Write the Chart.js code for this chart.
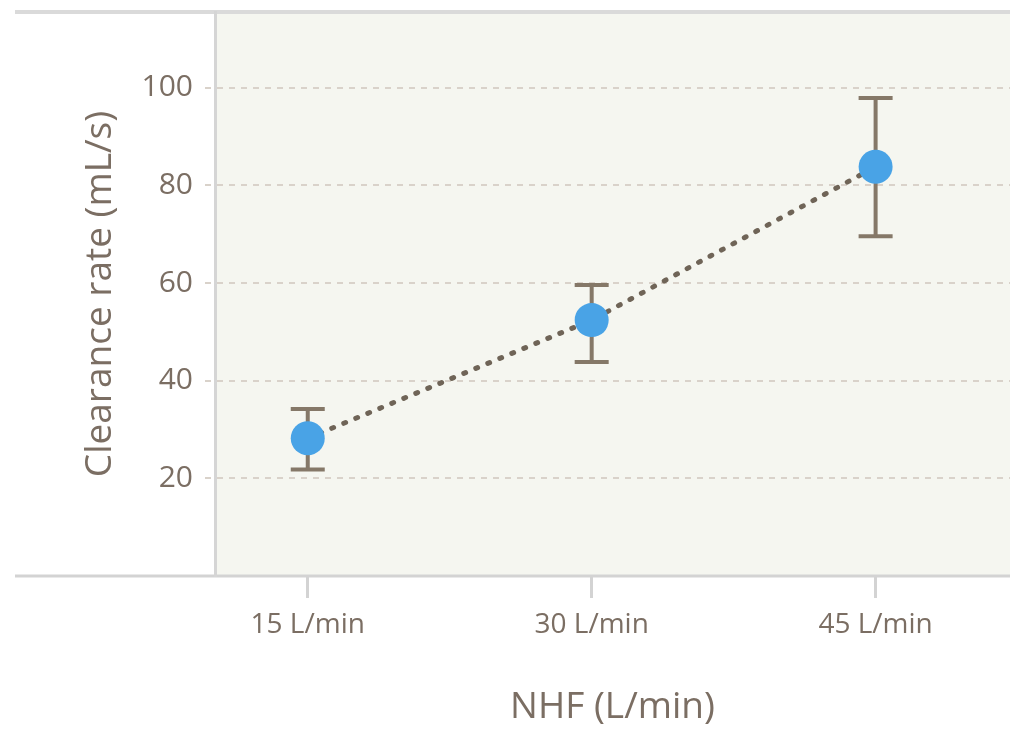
<!DOCTYPE html>
<html>
<head>
<meta charset="utf-8">
<script src="https://cdn.jsdelivr.net/npm/chart.js"></script>
<style>
    html, body { margin: 0; padding: 0; background: #ffffff; }
    #wrap { width: 1010px; height: 732px; }
</style>
</head>
<body>
<div id="wrap">
    <canvas id="lineChart" width="1010" height="732" style="width:1010px;height:732px"></canvas>
</div>

<script>
    // values
    const categories = ['15 L/min', '30 L/min', '45 L/min'];
    const flowRates = [15, 30, 45];
    const clearanceMean = [28.2, 52.4, 83.8];
    const errorHigh = [34.2, 59.6, 97.9];
    const errorLow = [21.8, 43.8, 69.6];
    const yTicks = [0, 20, 40, 60, 80, 100];

    const textColor = '#7b6e63';
    const barColor = '#857868';

    Chart.defaults.font.family = '"Open Sans", "Noto Sans", sans-serif';
    Chart.defaults.color = textColor;

    const points = flowRates.map((x, i) => ({ x: x, y: clearanceMean[i] }));

    // plot background and the long grey frame lines
    const backdrop = {
        id: 'backdrop',
        beforeDraw(chart) {
            const { ctx, chartArea: a } = chart;
            ctx.save();
            ctx.fillStyle = '#f5f6f0';
            ctx.fillRect(a.left, a.top, a.right - a.left, a.bottom - a.top);
            ctx.strokeStyle = '#dadada';
            ctx.lineWidth = 4;
            ctx.beginPath();
            ctx.moveTo(15, a.top);
            ctx.lineTo(a.right, a.top);
            ctx.stroke();
            ctx.lineWidth = 3;
            ctx.strokeStyle = '#d3d3d3';
            ctx.beginPath();
            ctx.moveTo(15, a.bottom);
            ctx.lineTo(a.right, a.bottom);
            ctx.stroke();
            ctx.restore();
        }
    };

    // error bars, drawn from the arrays through the chart scales
    const errorBars = {
        id: 'errorBars',
        beforeDatasetsDraw(chart) {
            const { ctx, scales: { x, y } } = chart;
            ctx.save();
            ctx.strokeStyle = barColor;
            ctx.lineWidth = 4;
            flowRates.forEach((v, i) => {
                const px = x.getPixelForValue(v);
                const hi = y.getPixelForValue(errorHigh[i]);
                const lo = y.getPixelForValue(errorLow[i]);
                ctx.beginPath();
                ctx.moveTo(px, hi);
                ctx.lineTo(px, lo);
                ctx.moveTo(px - 17, hi);
                ctx.lineTo(px + 17, hi);
                ctx.moveTo(px - 17, lo);
                ctx.lineTo(px + 17, lo);
                ctx.stroke();
            });
            ctx.restore();
        }
    };

    new Chart(document.getElementById('lineChart').getContext('2d'), {
        type: 'line',
        data: {
            datasets: [{
                label: 'mean',
                data: points,
                showLine: false,
                pointRadius: 17,
                pointHoverRadius: 17,
                pointBackgroundColor: '#49a3e6',
                pointBorderWidth: 0,
                order: 1
            }, {
                label: 'trend',
                data: points,
                borderColor: '#6f6457',
                borderWidth: 5,
                borderDash: [2, 11],
                borderCapStyle: 'round',
                pointRadius: 0,
                fill: false,
                order: 2
            }]
        },
        options: {
            responsive: false,
            animation: false,
            layout: { autoPadding: false, padding: { top: 12, right: 0, left: 0, bottom: 0 } },
            plugins: {
                legend: { display: false },
                tooltip: { enabled: false }
            },
            scales: {
                x: {
                    type: 'linear',
                    min: 10.1,
                    max: 52.1,
                    afterBuildTicks: s => { s.ticks = flowRates.map(v => ({ value: v })); },
                    afterFit: s => {
                        s.height = 156;
                        s.paddingLeft = 0;
                        s.paddingRight = 0;
                    },
                    ticks: {
                        autoSkip: false,
                        maxRotation: 0,
                        padding: 10,
                        font: { size: 28 },
                        callback: v => categories[flowRates.indexOf(v)]
                    },
                    grid: {
                        drawOnChartArea: false,
                        drawTicks: true,
                        tickLength: 22,
                        tickWidth: 3,
                        tickColor: '#d3d3d3'
                    },
                    border: { display: false },
                    title: {
                        display: true,
                        text: 'NHF (L/min)',
                        font: { size: 37 },
                        padding: { top: 2, bottom: 2 }
                    }
                },
                y: {
                    min: 0,
                    max: 115.5,
                    afterBuildTicks: s => { s.ticks = yTicks.map(v => ({ value: v })); },
                    afterFit: s => {
                        s.width = 215;
                        s.paddingTop = 0;
                        s.paddingBottom = 0;
                    },
                    ticks: {
                        padding: 12,
                        font: { size: 30 },
                        callback: v => v === 0 ? '' : v
                    },
                    grid: {
                        color: c => c.tick && c.tick.value === 0 ? 'rgba(0,0,0,0)' : '#d9d2ca',
                        lineWidth: 2,
                        tickLength: 10,
                        tickColor: c => c.tick && c.tick.value === 0 ? 'rgba(0,0,0,0)' : '#d9d2ca',
                        tickBorderDash: [6, 6]
                    },
                    border: { display: true, color: '#d5d5d5', width: 3, dash: [6, 6] },
                    title: {
                        display: true,
                        text: 'Clearance rate (mL/s)',
                        font: { size: 37 },
                        padding: { top: 78, bottom: 78 }
                    }
                }
            }
        },
        plugins: [backdrop, errorBars]
    });
</script>
</body>
</html>
